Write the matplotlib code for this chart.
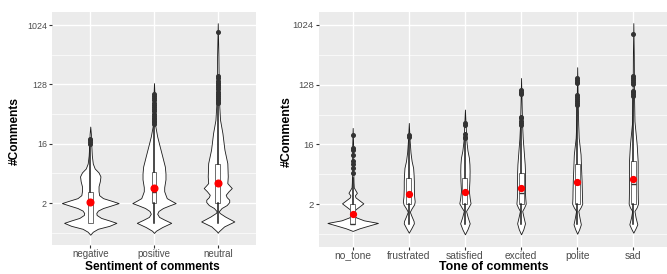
import numpy as np
import matplotlib
matplotlib.use('Agg')
import matplotlib.pyplot as plt
from matplotlib.ticker import FixedLocator, NullFormatter

plt.rcParams['font.family'] = ['Liberation Sans', 'DejaVu Sans']

# ---- left panel: sentiment ----
sentiment = ['negative', 'positive', 'neutral']

# violin outlines: log2(#comments) level -> half width (category units)
negative_lvl = [-0.6, -0.45, -0.3, -0.15, 0.0, 0.12, 0.25, 0.4, 0.5, 0.62, 0.75, 0.87, 1.0, 1.12, 1.25, 1.4,
                1.6, 1.85, 2.1, 2.35, 2.55, 2.75, 3.0, 3.4, 4.0, 4.5, 4.87]
negative_hw = [0, 0.04, 0.12, 0.3, 0.41, 0.3, 0.17, 0.1, 0.095, 0.12, 0.2, 0.32, 0.445, 0.33, 0.2, 0.14,
               0.13, 0.13, 0.15, 0.16, 0.13, 0.07, 0.04, 0.025, 0.015, 0.01, 0]
positive_lvl = [-0.51, -0.4, -0.21, 0.0, 0.15, 0.3, 0.46, 0.6, 0.75, 0.88, 1.0, 1.12, 1.25, 1.42, 1.6, 1.8,
                2.0, 2.2, 2.5, 2.85, 3.36, 3.86, 4.37, 4.9, 5.5, 6.3, 7.07]
positive_hw = [0, 0.03, 0.13, 0.27, 0.17, 0.08, 0.05, 0.07, 0.14, 0.24, 0.34, 0.27, 0.2, 0.18, 0.16, 0.16,
               0.17, 0.18, 0.18, 0.17, 0.13, 0.09, 0.05, 0.02, 0.015, 0.01, 0]
neutral_lvl = [-0.5, -0.43, -0.18, 0.07, 0.32, 0.5, 0.58, 0.75, 0.9, 1.05, 1.17, 1.3, 1.42, 1.6, 1.76, 1.9,
               2.01, 2.35, 3.02, 3.7, 4.54, 5.21, 5.89, 7.0, 8.5, 10.1]
neutral_hw = [0, 0.015, 0.1, 0.26, 0.115, 0.03, 0.015, 0.06, 0.14, 0.18, 0.18, 0.14, 0.125, 0.17, 0.22, 0.18,
              0.15, 0.157, 0.15, 0.105, 0.073, 0.036, 0.024, 0.015, 0.01, 0]

# boxplot stats (#comments)
sent_q1 = [1, 2, 2]
sent_med = [2, 3, 4]
sent_q3 = [3, 6, 8]
sent_lo = [1, 1, 1]
sent_hi = [15, 30, 62]
sent_mean = [2.07, 3.39, 4.1]
sent_out = [
    [16, 17, 18, 19],
    [32, 34, 36, 38, 40, 43, 46, 50, 54, 58, 63, 68, 74, 80, 86, 92],
    [66, 70, 75, 80, 86, 92, 100, 108, 116, 125, 135, 145, 160, 175, 800],
]

# ---- right panel: tone ----
tone = ['no_tone', 'frustrated', 'satisfied', 'excited', 'polite', 'sad']

no_tone_lvl = [-0.33, -0.2, -0.05, 0.07, 0.2, 0.35, 0.45, 0.6, 0.75, 0.9, 1.05, 1.2, 1.35, 1.45, 1.58, 1.7,
               1.85, 2.1, 2.5, 3.2, 4.0, 4.83]
no_tone_hw = [0, 0.12, 0.3, 0.45, 0.2, 0.06, 0.03, 0.025, 0.05, 0.12, 0.19, 0.12, 0.05, 0.04, 0.075, 0.05,
              0.02, 0.015, 0.012, 0.01, 0.008, 0]
frustrated_lvl = [-0.42, -0.17, 0.05, 0.17, 0.4, 0.63, 0.8, 1.0, 1.15, 1.4, 1.8, 2.16, 2.5, 2.83, 3.17, 3.6, 4.2, 5.08]
frustrated_hw = [0, 0.05, 0.09, 0.085, 0.05, 0.018, 0.05, 0.095, 0.105, 0.095, 0.09, 0.09, 0.085, 0.077, 0.05,
                 0.03, 0.015, 0]
satisfied_lvl = [-0.5, -0.25, 0.05, 0.35, 0.67, 0.85, 1.05, 1.3, 1.67, 2.2, 2.67, 3.0, 3.33, 3.7, 4.2, 5.0, 5.75]
satisfied_hw = [0, 0.045, 0.085, 0.05, 0.02, 0.06, 0.1, 0.085, 0.07, 0.08, 0.083, 0.08, 0.071, 0.045, 0.025,
                0.012, 0]
excited_lvl = [-0.5, -0.25, 0.05, 0.35, 0.67, 0.85, 1.03, 1.3, 1.58, 2.17, 2.6, 3.0, 3.67, 4.3, 5.0, 6.0, 7.33]
excited_hw = [0, 0.04, 0.07, 0.045, 0.02, 0.055, 0.083, 0.075, 0.07, 0.071, 0.07, 0.065, 0.047, 0.03, 0.018,
              0.01, 0]
polite_lvl = [-0.47, -0.25, 0.0, 0.35, 0.67, 0.85, 1.03, 1.3, 1.67, 2.2, 2.67, 3.5, 4.33, 5.0, 6.0, 7.87]
polite_hw = [0, 0.035, 0.065, 0.04, 0.02, 0.06, 0.09, 0.085, 0.083, 0.078, 0.071, 0.06, 0.027, 0.018, 0.01, 0]
sad_lvl = [-0.42, -0.2, 0.0, 0.35, 0.67, 0.85, 1.03, 1.3, 1.67, 2.0, 2.5, 3.17, 4.0, 5.17, 6.5, 8.5, 10.08]
sad_hw = [0, 0.04, 0.071, 0.04, 0.02, 0.06, 0.083, 0.08, 0.078, 0.077, 0.077, 0.077, 0.06, 0.02, 0.012,
          0.008, 0]

tone_q1 = [1, 2, 2, 2, 2, 2]
tone_med = [1, 3, 3, 3, 4, 4]
tone_q3 = [2, 5, 5, 6, 8, 9]
tone_lo = [1, 1, 1, 1, 1, 1]
tone_hi = [5, 19, 19, 30, 62, 84]
tone_mean = [1.41, 2.89, 3.1, 3.48, 4.38, 4.76]
tone_out = [
    [6, 7, 8, 9, 11, 13, 14, 22],
    [21, 22],
    [20, 21, 23, 32, 34],
    [32, 34, 36, 40, 42, 92, 96, 100, 106],
    [64, 68, 72, 78, 84, 90, 135, 142, 150, 160],
    [86, 92, 98, 104, 130, 138, 148, 160, 170, 740],
]


def draw_panel(ax, cats, profiles, q1, med, q3, lo, hi, mean, out, box_w, mean_size, xfont, yfont, tfont, xlab):
    ax.set_facecolor('#EBEBEB')
    pos = np.arange(1, len(cats) + 1)
    for x, (lvl, hw) in zip(pos, profiles):
        y = 2.0 ** np.array(lvl)
        hw = np.array(hw)
        ax.fill_betweenx(y, x - hw, x + hw, facecolor='white', edgecolor='#1a1a1a', lw=0.6, zorder=2)
    stats = []
    for i in range(len(cats)):
        stats.append(dict(q1=q1[i], med=med[i], q3=q3[i], whislo=lo[i], whishi=hi[i],
                          fliers=out[i], mean=mean[i]))
    ax.bxp(stats, positions=pos, widths=box_w, patch_artist=True, showcaps=False, showmeans=True,
           manage_ticks=False, zorder=3,
           boxprops=dict(facecolor='white', edgecolor='#555555', lw=0.6),
           whiskerprops=dict(color='#1a1a1a', lw=1.1),
           medianprops=dict(color='#333333', lw=1.0),
           flierprops=dict(marker='o', markerfacecolor='#333333', markeredgecolor='#333333',
                           markersize=2.6),
           meanprops=dict(marker='o', markerfacecolor='red', markeredgecolor='red', markersize=mean_size))

    ax.set_yscale('log', base=2)
    ax.set_ylim(2 ** -1.12, 2 ** 10.65)
    ax.set_xlim(0.4, len(cats) + 0.6)
    ax.set_yticks([2, 16, 128, 1024])
    ax.set_yticklabels(['2', '16', '128', '1024'])
    ax.yaxis.set_minor_locator(FixedLocator(2.0 ** np.array([-0.5, 2.5, 5.5, 8.5])))
    ax.yaxis.set_minor_formatter(NullFormatter())
    ax.set_xticks(pos)
    ax.set_xticklabels(cats)
    ax.tick_params(which='major', length=2.5, width=0.8, color='#333333', pad=1.2)
    ax.tick_params(axis='x', labelsize=xfont, labelcolor='#4D4D4D', pad=0.6)
    ax.tick_params(axis='y', labelsize=yfont, labelcolor='#4D4D4D')
    ax.tick_params(which='minor', length=0)
    ax.grid(which='major', color='white', lw=1.0)
    ax.grid(which='minor', axis='y', color='white', lw=0.5)
    ax.set_axisbelow(True)
    for s in ax.spines.values():
        s.set_visible(False)
    ax.set_xlabel(xlab, fontsize=tfont, fontweight='bold')
    ax.set_ylabel('#Comments', fontsize=tfont, fontweight='bold')
    ax.xaxis.label.set_verticalalignment('center')
    ax.yaxis.label.set_verticalalignment('center')


fig = plt.figure(figsize=(6.67, 2.74), dpi=100)
ax1 = fig.add_axes([52 / 667, 29 / 274, 204 / 667, 232.7 / 274])
ax2 = fig.add_axes([319 / 667, 27.3 / 274, 348 / 667, 235 / 274])

draw_panel(ax1, sentiment,
           [(negative_lvl, negative_hw), (positive_lvl, positive_hw), (neutral_lvl, neutral_hw)],
           sent_q1, sent_med, sent_q3, sent_lo, sent_hi, sent_mean, sent_out,
           0.075, 4.8, 7.0, 6.4, 8.6, 'Sentiment of comments')
draw_panel(ax2, tone,
           [(no_tone_lvl, no_tone_hw), (frustrated_lvl, frustrated_hw), (satisfied_lvl, satisfied_hw),
            (excited_lvl, excited_hw), (polite_lvl, polite_hw), (sad_lvl, sad_hw)],
           tone_q1, tone_med, tone_q3, tone_lo, tone_hi, tone_mean, tone_out,
           0.09, 4.2, 7.4, 6.8, 8.9, 'Tone of comments')

ax1.xaxis.set_label_coords(0.493, (245 - 267.5) / 232.7)
ax1.yaxis.set_label_coords((15 - 52) / 204, 0.49)
ax2.xaxis.set_label_coords(0.502, (246.7 - 267.5) / 235)
ax2.yaxis.set_label_coords((286.7 - 319) / 348, 0.49)

fig.savefig('out.png', dpi=100)
